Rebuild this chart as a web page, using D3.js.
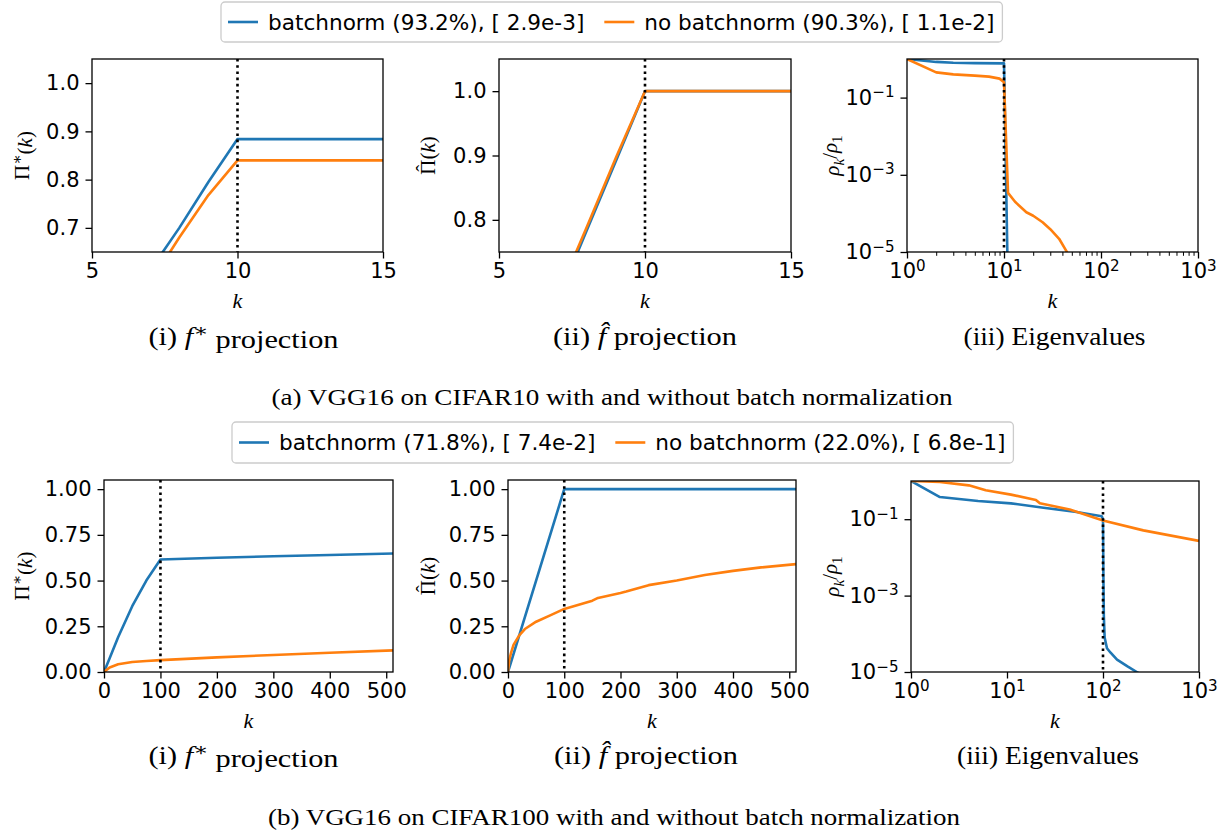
<!DOCTYPE html>
<html>
<head>
<meta charset="utf-8">
<script src="https://cdn.jsdelivr.net/npm/d3@7"></script>
<style>
  body { margin: 0; background: #fff; }
  svg { display: block; }
  .tick text { font-family: "DejaVu Sans", sans-serif; }
</style>
</head>
<body>
<svg id="fig" width="1227" height="831"></svg>
<script>

///////////////////////////////////////////////////
//   data
///////////////////////////////////////////////////

// legend entries
var legendTop = ["batchnorm (93.2%), [ 2.9e-3]", "no batchnorm (90.3%), [ 1.1e-2]"];
var legendBottom = ["batchnorm (71.8%), [ 7.4e-2]", "no batchnorm (22.0%), [ 6.8e-1]"];

// (a) CIFAR10 - f* projection
var a_starK = [7, 8, 9, 10, 15];
var a_starBN = [0.612, 0.70, 0.795, 0.884, 0.884];
var a_starNoBN = [0.586, 0.68, 0.768, 0.840, 0.840];

// (a) CIFAR10 - f hat projection
var a_hatK = [7, 8, 9, 10, 15];
var a_hatBN = [0.674, 0.783, 0.891, 1.0, 1.0];
var a_hatNoBN = [0.682, 0.788, 0.896, 1.0, 1.0];

// (a) CIFAR10 - eigenvalues
var a_eigBNK = [1, 2, 3, 5, 10, 11];
var a_eigBN = [1, 0.84, 0.80, 0.78, 0.77, 1e-6];
var a_eigNoBNK = [1, 2, 3, 5, 7, 9, 10, 11, 13, 17, 20, 25, 30, 37, 44, 50];
var a_eigNoBN = [1, 0.45, 0.40, 0.37, 0.35, 0.31, 0.25, 3.4e-4, 2.0e-4, 1.07e-4, 8.7e-5, 5.9e-5, 3.9e-5, 2.2e-5, 1.05e-5, 6e-6];

// (b) CIFAR100 - f* projection
var b_starK = [0, 10, 25, 50, 75, 100, 200, 300, 400, 512];
var b_starBN = [0, 0.075, 0.19, 0.36, 0.50, 0.615, 0.625, 0.633, 0.640, 0.648];
var b_starNoBN = [0, 0.025, 0.042, 0.055, 0.060, 0.065, 0.080, 0.093, 0.105, 0.118];

// (b) CIFAR100 - f hat projection
var b_hatBNK = [0, 100, 512];
var b_hatBN = [0, 1.0, 1.0];
var b_hatNoBNK = [0, 2, 5, 10, 20, 30, 50, 75, 100, 150, 160, 200, 210, 250, 300, 350, 400, 450, 512];
var b_hatNoBN = [0, 0.06, 0.10, 0.15, 0.20, 0.235, 0.275, 0.31, 0.345, 0.39, 0.405, 0.432, 0.44, 0.475, 0.50, 0.53, 0.553, 0.572, 0.59];

// (b) CIFAR100 - eigenvalues
var b_eigBNK = [1, 2, 5, 11, 24, 53, 97, 100, 101, 102, 104, 110, 120, 140, 180, 225, 260];
var b_eigBN = [1, 0.38, 0.30, 0.26, 0.20, 0.155, 0.12, 0.10, 3e-3, 3e-4, 8e-5, 4.2e-5, 3.2e-5, 2.1e-5, 1.4e-5, 1.0e-5, 8e-6];
var b_eigNoBNK = [1, 2, 4, 6, 11, 20, 22, 45, 100, 263, 1000];
var b_eigNoBN = [1, 0.94, 0.77, 0.57, 0.44, 0.32, 0.26, 0.18, 0.093, 0.051, 0.027];

// tick values
var starTicksA = [0.7, 0.8, 0.9, 1.0];
var hatTicksA = [0.8, 0.9, 1.0];
var linTicksB = [0, 0.25, 0.5, 0.75, 1.0];
var kTicksA = [5, 10, 15];
var kTicksB = [0, 100, 200, 300, 400, 500];
var logKTicks = [1, 10, 100, 1000];
var logRhoTicks = [1e-1, 1e-3, 1e-5];

var blue = "#1f77b4", orange = "#ff7f0e";
var serif = "'Liberation Serif', 'DejaVu Serif', serif";
var svg = d3.select("#fig");

///////////////////////////////////////////////////
//   helpers
///////////////////////////////////////////////////

function supLabel(sel, base, exp) {
	sel.text(null);
	sel.append("tspan").text(base);
	sel.append("tspan").attr("dy", "-0.5em").style("font-size", "0.72em").text(exp);
}

var clipId = 0;

function drawPanel(p) {
	var g = svg.append("g").attr("transform", "translate(" + p.left + "," + p.top + ")");

	var x = (p.logX ? d3.scaleLog() : d3.scaleLinear()).domain(p.xDomain).range([0, p.width]);
	var y = (p.logY ? d3.scaleLog() : d3.scaleLinear()).domain(p.yDomain).range([p.height, 0]);

	clipId++;
	g.append("clipPath").attr("id", "clip" + clipId)
		.append("rect").attr("width", p.width).attr("height", p.height);

	var plot = g.append("g").attr("clip-path", "url(#clip" + clipId + ")");

	var line = d3.line()
		.x(function(d) { return x(d[0]); })
		.y(function(d) { return y(d[1]); });

	p.series.forEach(function(s) {
		plot.append("path")
			.datum(d3.zip(s.k, s.v))
			.attr("d", line)
			.attr("fill", "none")
			.attr("stroke", s.color)
			.attr("stroke-width", 2.6)
			.attr("stroke-linejoin", "round");
	});

	// dotted vertical marker
	plot.append("line")
		.attr("x1", x(p.vline)).attr("x2", x(p.vline))
		.attr("y1", 0).attr("y2", p.height)
		.attr("stroke", "#000")
		.attr("stroke-width", 2.6)
		.attr("stroke-dasharray", "2.6,3.6");

	// x axis
	var xAxis = d3.axisBottom(x).tickValues(p.xTicks).tickSize(6.5).tickPadding(5);
	if (!p.logX) xAxis.tickFormat(d3.format("d"));
	var xg = g.append("g").attr("transform", "translate(0," + p.height + ")").call(xAxis);
	if (p.logX) {
		xg.selectAll(".tick text").each(function(d) {
			supLabel(d3.select(this), "10", String(Math.round(Math.log10(d))));
		});
	}
	if (p.minorX) {
		var minors = [];
		[1, 10, 100].forEach(function(dec) {
			d3.range(2, 10).forEach(function(m) { minors.push(dec * m); });
		});
		g.append("g").attr("transform", "translate(0," + p.height + ")")
			.call(d3.axisBottom(x).tickValues(minors).tickSize(3.8).tickFormat(""))
			.call(function(s) { s.select(".domain").remove(); })
			.selectAll("line").attr("stroke-width", 1.0);
	}

	// y axis
	var yAxis = d3.axisLeft(y).tickValues(p.yTicks).tickSize(6.5).tickPadding(6);
	if (!p.logY) yAxis.tickFormat(d3.format(p.yFormat));
	var yg = g.append("g").call(yAxis);
	if (p.logY) {
		yg.selectAll(".tick text").each(function(d) {
			supLabel(d3.select(this), "10", "\u2212" + String(Math.round(-Math.log10(d))));
		});
	}

	[xg, yg].forEach(function(ax) {
		ax.select(".domain").remove();
		ax.selectAll(".tick line").attr("stroke", "#000").attr("stroke-width", 1.3);
		ax.selectAll(".tick text").attr("fill", "#000").style("font-size", "21px");
	});

	// frame
	g.append("rect")
		.attr("width", p.width).attr("height", p.height)
		.attr("fill", "none").attr("stroke", "#000").attr("stroke-width", 1.3);

	// x label
	g.append("text")
		.attr("x", p.width / 2).attr("y", p.height + 56)
		.attr("text-anchor", "middle")
		.style("font-family", serif).style("font-style", "italic").style("font-size", "22px")
		.text("k");

	// y label (rotated)
	var yl = g.append("text")
		.attr("transform", "translate(" + p.ylabelX + "," + (p.height / 2) + ") rotate(-90)")
		.attr("text-anchor", "middle")
		.style("font-family", serif).style("font-size", "21px");
	p.ylabel(yl);

	// sub caption
	var cap = svg.append("text")
		.attr("x", p.left + p.width / 2 + p.capDx).attr("y", p.capY)
		.attr("text-anchor", "middle")
		.attr("textLength", p.capW).attr("lengthAdjust", "spacingAndGlyphs")
		.style("font-family", serif).style("font-size", "25px");
	p.caption(cap);
}

function labelStar(t) {
	t.append("tspan").text("\u03a0");
	t.append("tspan").attr("dy", "-0.45em").style("font-size", "0.72em").text("\u2217");
	t.append("tspan").attr("dy", "0.45em").text("(");
	t.append("tspan").style("font-style", "italic").text("k");
	t.append("tspan").text(")");
}
function labelHat(t) {
	t.append("tspan").text("\u03a0");
	t.append("tspan").attr("dx", "-0.58em").attr("dy", "-0.2em").text("\u02c6");
	t.append("tspan").attr("dx", "0.25em").attr("dy", "0.2em").text("(");
	t.append("tspan").style("font-style", "italic").text("k");
	t.append("tspan").text(")");
}
function labelRho(t) {
	t.append("tspan").style("font-style", "italic").text("\u03c1");
	t.append("tspan").attr("dy", "0.3em").style("font-size", "0.72em").style("font-style", "italic").text("k");
	t.append("tspan").attr("dy", "-0.3em").text("/");
	t.append("tspan").style("font-style", "italic").text("\u03c1");
	t.append("tspan").attr("dy", "0.3em").style("font-size", "0.72em").text("1");
}
function capStar(t) {
	t.append("tspan").text("(i) ");
	t.append("tspan").style("font-style", "italic").text("f");
	t.append("tspan").attr("dy", "-0.45em").style("font-size", "0.72em").text("\u2217");
	t.append("tspan").attr("dy", "0.45em").text(" projection");
}
function capHat(t) {
	t.append("tspan").text("(ii) ");
	t.append("tspan").style("font-style", "italic").text("f\u0302");
	t.append("tspan").text(" projection");
}
function capEig(t) {
	t.text("(iii) Eigenvalues");
}

function drawLegend(x0, y0, h, labels) {
	var g = svg.append("g").attr("transform", "translate(" + x0 + "," + y0 + ")");
	var box = g.append("rect").attr("height", h).attr("rx", 4)
		.attr("fill", "#fff").attr("fill-opacity", 0.8)
		.attr("stroke", "#cccccc").attr("stroke-width", 1.3);
	var cx = 7;
	[blue, orange].forEach(function(c, i) {
		g.append("line").attr("x1", cx).attr("x2", cx + 30)
			.attr("y1", h / 2).attr("y2", h / 2)
			.attr("stroke", c).attr("stroke-width", 2.6);
		var t = g.append("text").attr("x", cx + 40).attr("y", h / 2).attr("dy", "0.36em")
			.style("font-family", "'DejaVu Sans', sans-serif").style("font-size", "21.6px")
			.text(labels[i]);
		cx = cx + 40 + t.node().getComputedTextLength() + 20;
	});
	box.attr("width", cx - 12);
}

///////////////////////////////////////////////////
//   panels
///////////////////////////////////////////////////

var panels = [
	{ left: 92, top: 59, width: 291, height: 193, xDomain: [5, 15], yDomain: [0.65, 1.05],
	  xTicks: kTicksA, yTicks: starTicksA, yFormat: ".1f", vline: 10, ylabelX: -63, ylabel: labelStar,
	  caption: capStar, capDx: 6, capY: 345, capW: 190,
	  series: [{ k: a_starK, v: a_starBN, color: blue }, { k: a_starK, v: a_starNoBN, color: orange }] },
	{ left: 499, top: 59, width: 292, height: 193, xDomain: [5, 15], yDomain: [0.75, 1.05],
	  xTicks: kTicksA, yTicks: hatTicksA, yFormat: ".1f", vline: 10, ylabelX: -64, ylabel: labelHat,
	  caption: capHat, capDx: 0, capY: 345, capW: 184,
	  series: [{ k: a_hatK, v: a_hatBN, color: blue }, { k: a_hatK, v: a_hatNoBN, color: orange }] },
	{ left: 907, top: 59, width: 291, height: 193, logX: true, logY: true, minorX: true,
	  xDomain: [1, 1000], yDomain: [1e-5, 1],
	  xTicks: logKTicks, yTicks: logRhoTicks, vline: 10, ylabelX: -68, ylabel: labelRho,
	  caption: capEig, capDx: 2, capY: 345, capW: 182,
	  series: [{ k: a_eigBNK, v: a_eigBN, color: blue }, { k: a_eigNoBNK, v: a_eigNoBN, color: orange }] },
	{ left: 104, top: 480, width: 289, height: 192, xDomain: [0, 512], yDomain: [0, 1.05],
	  xTicks: kTicksB, yTicks: linTicksB, yFormat: ".2f", vline: 100, ylabelX: -75, ylabel: labelStar,
	  caption: capStar, capDx: -5, capY: 764, capW: 190,
	  series: [{ k: b_starK, v: b_starBN, color: blue }, { k: b_starK, v: b_starNoBN, color: orange }] },
	{ left: 508, top: 480, width: 288, height: 192, xDomain: [0, 512], yDomain: [0, 1.05],
	  xTicks: kTicksB, yTicks: linTicksB, yFormat: ".2f", vline: 100, ylabelX: -73, ylabel: labelHat,
	  caption: capHat, capDx: -6, capY: 764, capW: 184,
	  series: [{ k: b_hatBNK, v: b_hatBN, color: blue }, { k: b_hatNoBNK, v: b_hatNoBN, color: orange }] },
	{ left: 911, top: 481, width: 288, height: 191, logX: true, logY: true,
	  xDomain: [1, 1000], yDomain: [1e-5, 1],
	  xTicks: logKTicks, yTicks: logRhoTicks, vline: 100, ylabelX: -72, ylabel: labelRho,
	  caption: capEig, capDx: -7, capY: 764, capW: 182,
	  series: [{ k: b_eigBNK, v: b_eigBN, color: blue }, { k: b_eigNoBNK, v: b_eigNoBN, color: orange }] }
];

panels.forEach(drawPanel);

drawLegend(221, 2, 40, legendTop);
drawLegend(232, 422, 41, legendBottom);

// figure captions
svg.append("text").attr("x", 612).attr("y", 405).attr("text-anchor", "middle")
	.attr("textLength", 681).attr("lengthAdjust", "spacingAndGlyphs")
	.style("font-family", serif).style("font-size", "24px")
	.text("(a) VGG16 on CIFAR10 with and without batch normalization");

svg.append("text").attr("x", 614).attr("y", 825).attr("text-anchor", "middle")
	.attr("textLength", 692).attr("lengthAdjust", "spacingAndGlyphs")
	.style("font-family", serif).style("font-size", "24px")
	.text("(b) VGG16 on CIFAR100 with and without batch normalization");

</script>
</body>
</html>
